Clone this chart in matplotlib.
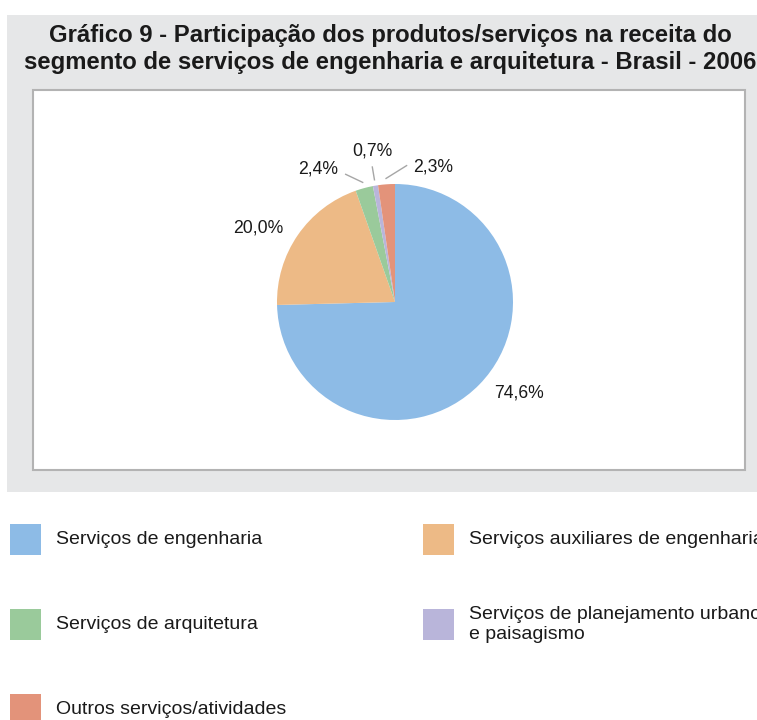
import numpy as np
import matplotlib.pyplot as plt
from matplotlib.patches import Rectangle

W, H = 757, 720

title = ('Gráfico 9 - Participação dos produtos/serviços na receita do\n'
         'segmento de serviços de engenharia e arquitetura - Brasil - 2006')
categories = ['Serviços de engenharia',
              'Serviços auxiliares de engenharia',
              'Serviços de arquitetura',
              'Serviços de planejamento urbano\ne paisagismo',
              'Outros serviços/atividades']
shares = [74.6, 20.0, 2.4, 0.7, 2.3]
colors = ['#8DBBE6', '#EDBA86', '#9ACA9B', '#B9B5DA', '#E3937A']

# label placement per slice: (angle offset from slice middle, radius)
label_pos = [(8, 1.30), (6, 1.32), (15, 1.30), (-1, 1.29), (-20, 1.19)]
# leader lines for the thin slices: slice index -> angle offset of outer end
leaders = {2: 6, 3: 0, 4: -9}

plt.rcParams['font.family'] = ['Liberation Sans', 'DejaVu Sans']

fig = plt.figure(figsize=(W / 100, H / 100), dpi=100)
fig.patch.set_facecolor('white')

# background axes in pixel units
bg = fig.add_axes([0, 0, 1, 1])
bg.set_xlim(0, W)
bg.set_ylim(H, 0)
bg.axis('off')

bg.add_patch(Rectangle((7, 15), W - 7, 477, facecolor='#E6E7E8', edgecolor='none'))
bg.add_patch(Rectangle((33, 90), 712, 380, facecolor='white', edgecolor='#B3B3B3', linewidth=1.5))
bg.text(390, 49, title, ha='center', va='center', fontsize=17.2, fontweight='bold',
        color='#1a1a1a', linespacing=1.2)

# legend, two columns filled row by row
for i, (cat, col) in enumerate(zip(categories, colors)):
    row, c = divmod(i, 2)
    x0 = 10 + c * 413
    yc = 539.5 + row * 85
    bg.add_patch(Rectangle((x0, yc - 15.5), 31, 31, facecolor=col, edgecolor='none'))
    bg.text(x0 + 46, yc, cat, ha='left', va='center', fontsize=14, color='#1a1a1a',
            linespacing=1.3)

# pie axes: center (395, 302), radius 118 px
cx, cy, r = 395, 302, 118
ax = fig.add_axes([(cx - r) / W, (H - cy - r) / H, 2 * r / W, 2 * r / H])
wedges, _ = ax.pie(shares, colors=colors, startangle=90, counterclock=False,
                   wedgeprops=dict(edgecolor='none'))
ax.set_xlim(-1, 1)
ax.set_ylim(-1, 1)

for i, (w, v) in enumerate(zip(wedges, shares)):
    mid = (w.theta1 + w.theta2) / 2
    off, rad = label_pos[i]
    a = np.deg2rad(mid + off)
    txt = f'{v:.1f}%'.replace('.', ',')
    ax.text(rad * np.cos(a), rad * np.sin(a), txt, ha='center', va='center',
            fontsize=12.7, color='#1a1a1a', clip_on=False)
    if i in leaders:
        a0 = np.deg2rad(mid)
        a1 = np.deg2rad(mid + leaders[i])
        ax.plot([1.05 * np.cos(a0), 1.16 * np.cos(a1)],
                [1.05 * np.sin(a0), 1.16 * np.sin(a1)],
                color='#A6A6A6', linewidth=1, clip_on=False)

fig.savefig('out.png', dpi=100)
